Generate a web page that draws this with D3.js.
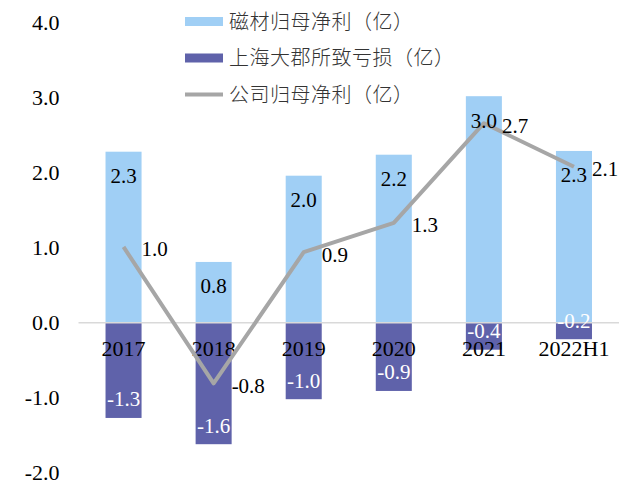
<!DOCTYPE html>
<html>
<head>
<meta charset="utf-8">
<script src="https://cdn.jsdelivr.net/npm/d3@7"></script>
<style>
  html, body { margin: 0; padding: 0; background: #fff; }
  svg { display: block; }
</style>
</head>
<body>
<svg id="chart" width="628" height="483"></svg>
<script>
// Annual figures, unit: 亿元
const categories = ["2017", "2018", "2019", "2020", "2021", "2022H1"];
const magnetProfit = [2.28, 0.81, 1.96, 2.24, 3.02, 2.29];     // 磁材归母净利
const shanghaiLoss = [-1.27, -1.62, -1.02, -0.91, -0.36, -0.22]; // 上海大郡所致亏损
const companyProfit = [1.01, -0.81, 0.94, 1.33, 2.66, 2.08];    // 公司归母净利
const yTicks = [-2, -1, 0, 1, 2, 3, 4];

const legendItems = [
  { label: "磁材归母净利（亿）", kind: "bar", color: "#A0CFF5" },
  { label: "上海大郡所致亏损（亿）", kind: "bar", color: "#5F62AA" },
  { label: "公司归母净利（亿）", kind: "line", color: "#A6A6A6" }
];

const svg = d3.select("#chart");
const serif = "'Liberation Serif', 'Times New Roman', serif";
const cjk = "'Noto Sans CJK SC', sans-serif";

// one decimal, plain hyphen for negatives
const fmt = v => d3.format(".1f")(v).replace("\u2212", "-");

const x = d3.scaleBand()
  .domain(categories)
  .range([78.5, 619])
  .paddingInner(0.6)
  .paddingOuter(0.3);

const y = d3.scaleLinear().domain([-2, 4]).range([472.7, 22.7]);

// value axis: labels only, no line or ticks
const yAxis = d3.axisLeft(y)
  .tickValues(yTicks)
  .tickFormat(fmt)
  .tickSize(0)
  .tickPadding(0);
const gy = svg.append("g").attr("transform", "translate(59.5,0)").call(yAxis);
gy.select(".domain").remove();
gy.selectAll("text")
  .attr("font-family", serif)
  .attr("font-size", 22)
  .attr("fill", "#000")
  .attr("dy", "0.33em");

// positive bars
svg.append("g").selectAll("rect")
  .data(magnetProfit)
  .join("rect")
  .attr("x", (d, i) => x(categories[i]))
  .attr("width", x.bandwidth())
  .attr("y", d => y(d))
  .attr("height", d => y(0) - y(d))
  .attr("fill", "#A0CFF5");

// negative bars
svg.append("g").selectAll("rect")
  .data(shanghaiLoss)
  .join("rect")
  .attr("x", (d, i) => x(categories[i]))
  .attr("width", x.bandwidth())
  .attr("y", y(0))
  .attr("height", d => y(d) - y(0))
  .attr("fill", "#5F62AA");

// zero line
svg.append("line")
  .attr("x1", 78.5).attr("x2", 619)
  .attr("y1", y(0)).attr("y2", y(0))
  .attr("stroke", "#D9D9D9")
  .attr("stroke-width", 1.5);

// category labels just below the zero line
svg.append("g").selectAll("text")
  .data(categories)
  .join("text")
  .attr("x", d => x(d) + x.bandwidth() / 2)
  .attr("y", y(0) + 26)
  .attr("dy", "0.35em")
  .attr("text-anchor", "middle")
  .attr("font-family", serif)
  .attr("font-size", 22)
  .attr("fill", "#000")
  .text(d => d);

// net profit line
const line = d3.line()
  .x((d, i) => x(categories[i]) + x.bandwidth() / 2)
  .y(d => y(d));
svg.append("path")
  .datum(companyProfit)
  .attr("d", line)
  .attr("fill", "none")
  .attr("stroke", "#A6A6A6")
  .attr("stroke-width", 4)
  .attr("stroke-linejoin", "round");

// value labels
svg.append("g").selectAll("text")
  .data(magnetProfit)
  .join("text")
  .attr("x", (d, i) => x(categories[i]) + x.bandwidth() / 2)
  .attr("y", d => y(d) + 24)
  .attr("dy", "0.35em")
  .attr("text-anchor", "middle")
  .attr("font-family", serif)
  .attr("font-size", 21)
  .attr("fill", "#000")
  .text(d => fmt(d));

svg.append("g").selectAll("text")
  .data(shanghaiLoss)
  .join("text")
  .attr("x", (d, i) => x(categories[i]) + x.bandwidth() / 2)
  .attr("y", d => y(d) - 19)
  .attr("dy", "0.35em")
  .attr("text-anchor", "middle")
  .attr("font-family", serif)
  .attr("font-size", 21)
  .attr("fill", "#fff")
  .text(d => fmt(d));

svg.append("g").selectAll("text")
  .data(companyProfit)
  .join("text")
  .attr("x", (d, i) => x(categories[i]) + x.bandwidth() / 2 + 18)
  .attr("y", d => y(d) + 2)
  .attr("dy", "0.35em")
  .attr("text-anchor", "start")
  .attr("font-family", serif)
  .attr("font-size", 21)
  .attr("fill", "#000")
  .text(d => fmt(d));

// legend
const legend = svg.append("g").attr("transform", "translate(185,21.5)");
const rows = legend.selectAll("g")
  .data(legendItems)
  .join("g")
  .attr("transform", (d, i) => `translate(0,${i * 36.5})`);
rows.filter(d => d.kind === "bar").append("rect")
  .attr("x", 0).attr("y", -4.5)
  .attr("width", 38).attr("height", 9)
  .attr("fill", d => d.color);
rows.filter(d => d.kind === "line").append("line")
  .attr("x1", 0).attr("x2", 38)
  .attr("y1", 0).attr("y2", 0)
  .attr("stroke", d => d.color)
  .attr("stroke-width", 4);
rows.append("text")
  .attr("x", 44)
  .attr("y", 0)
  .attr("dy", "0.36em")
  .attr("font-family", cjk)
  .attr("font-weight", 300)
  .attr("font-size", 20)
  .attr("letter-spacing", 0.5)
  .attr("fill", "#333")
  .text(d => d.label);
</script>
</body>
</html>
